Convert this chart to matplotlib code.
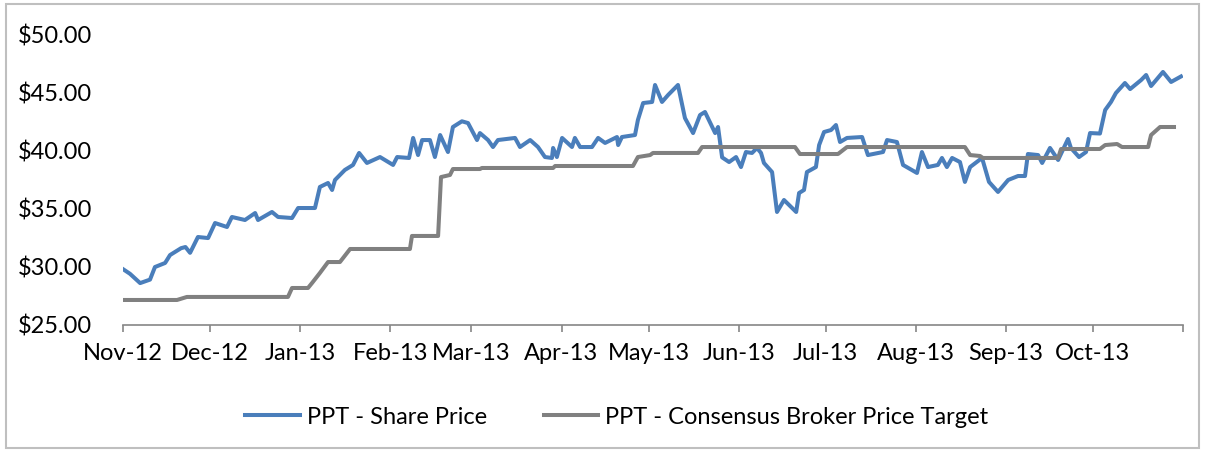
import numpy as np
import pandas as pd
import matplotlib
matplotlib.use('Agg')
import matplotlib.pyplot as plt
from matplotlib.patches import Rectangle

plt.rcParams['font.family'] = ['Lato', 'DejaVu Sans']

# days since 1 Nov 2012
price_days = [0, 2.4, 5.9, 9.3, 11.0, 14.5, 16.2, 20.0, 21.5, 23.1, 25.8, 29.3, 31.7, 35.8, 37.5,
              42.0, 45.5, 46.5, 51.3, 53.4, 58.2, 60.3, 66.1, 67.8, 70.6, 72.0, 73.0, 76.4, 79.2,
              81.3, 84.0, 88.5, 93.0, 94.4, 98.5, 99.9, 101.6, 103.0, 105.7, 107.4, 109.2, 111.9,
              113.6, 116.7, 118.8, 121.9, 122.9, 125.7, 127.4, 129.1, 135.0, 136.7, 140.2, 142.9,
              145.3, 147.7, 148.1, 149.4, 151.2, 154.6, 155.6, 157.4, 161.5, 163.6, 166.0, 170.1,
              170.5, 171.8, 176.3, 177.3, 179.1, 182.2, 183.2, 185.6, 187.7, 191.1, 193.5, 196.3,
              198.7, 200.4, 203.9, 204.9, 206.3, 208.7, 211.1, 212.8, 214.5, 216.6, 218.3, 219.7,
              220.7, 223.5, 225.2, 227.6, 231.8, 232.8, 234.5, 235.5, 238.6, 239.7, 241.4, 243.8,
              245.5, 246.9, 249.3, 254.5, 256.5, 261.7, 263.1, 266.5, 268.6, 273.4, 275.1, 277.2,
              280.6, 282.0, 283.7, 285.5, 288.2, 289.9, 291.7, 295.8, 298.2, 301.3, 304.8, 308.2,
              310.6, 311.6, 315.1, 316.5, 319.2, 322.0, 325.4, 326.4, 329.2, 331.6, 333.0, 336.4,
              338.2, 340.2, 341.9, 345.0, 346.8, 350.6, 352.3, 354.0, 358.1, 360.9, 364.3]
share_price = [29.8, 29.4, 28.6, 28.9, 29.98, 30.33, 31.01, 31.6, 31.7, 31.2, 32.56, 32.47, 33.76, 33.42, 34.28,
               34.02, 34.62, 34.02, 34.71, 34.28, 34.19, 35.05, 35.05, 36.86, 37.20, 36.60, 37.46, 38.32, 38.75,
               39.78, 38.92, 39.43, 38.75, 39.43, 39.35, 41.07, 39.60, 40.89, 40.89, 39.43, 41.32, 39.86,
               42.01, 42.5, 42.35, 40.89, 41.49, 40.89, 40.29, 40.89, 41.07, 40.29, 40.89, 40.29,
               39.43, 39.35, 40.21, 39.43, 41.07, 40.29, 41.07, 40.29, 40.29, 41.07, 40.64, 41.15,
               40.46, 41.15, 41.32, 42.61, 44.07, 44.16, 45.62, 44.16, 44.76, 45.62, 42.78, 41.49,
               43.04, 43.30, 41.49, 42.01, 39.4, 39.00, 39.43, 38.57, 39.86, 39.78, 40.21, 39.78,
               38.92, 38.14, 34.71, 35.74, 34.71, 36.34, 36.60, 38.14, 38.57, 40.46, 41.58, 41.75,
               42.18, 40.72, 41.07, 41.15, 39.60, 39.86, 40.89, 40.72, 38.75, 38.06, 39.86, 38.57,
               38.75, 39.35, 38.57, 39.35, 39.00, 37.29, 38.57, 39.35, 37.29, 36.43, 37.46, 37.8,
               37.8, 39.69, 39.60, 38.92, 40.21, 39.18, 40.98, 40.21, 39.43, 39.86, 41.49, 41.45,
               43.47, 44.16, 44.93, 45.79, 45.27, 46.05, 46.48, 45.53, 46.74, 45.88, 46.35]

target_days = [0, 18.6, 22.0, 56.8, 58.2, 63.7, 65.1, 67.8, 70.6, 74.7, 78.2, 98.8, 99.5, 108.5,
               109.5, 112.6, 113.6, 122.9, 123.6, 148.1, 148.8, 175.6, 177.3, 181.5, 182.5, 198.0,
               199.4, 231.4, 233.1, 246.2, 249.3, 289.9, 291.7, 295.1, 296.1, 322.0, 323.0, 336.4,
               338.2, 342.3, 344.0, 353.0, 354.0, 357.1, 361.9]
broker_target = [27.15, 27.15, 27.41, 27.41, 28.18, 28.18, 28.61, 29.47, 30.41, 30.41, 31.53, 31.53, 32.65, 32.65,
                 37.71, 37.89, 38.40, 38.40, 38.49, 38.49, 38.66, 38.66, 39.43, 39.60, 39.78, 39.78,
                 40.29, 40.29, 39.69, 39.69, 40.29, 40.29, 39.60, 39.52, 39.35, 39.35, 40.12, 40.12,
                 40.46, 40.55, 40.29, 40.29, 41.32, 42.01, 42.01]

start = pd.Timestamp('2012-11-01')
months = pd.date_range('2012-11-01', '2013-11-01', freq='MS')
month_days = [(m - start).days for m in months]
month_labels = [m.strftime('%b-%y') for m in months[:-1]] + ['']

fig = plt.figure(figsize=(12.07, 4.54), dpi=100)
ax = fig.add_axes([123 / 1207, 1 - 325 / 454, (1183 - 123) / 1207, (325 - 34) / 454])

ax.plot(price_days, share_price, color='#4A7EBB', lw=2.9, solid_joinstyle='round',
        label='PPT - Share Price')
ax.plot(target_days, broker_target, color='#808080', lw=2.9, solid_joinstyle='round',
        label='PPT - Consensus Broker Price Target')

ax.set_xlim(0, 365)
ax.set_ylim(25, 50)
ax.set_yticks(np.arange(25, 51, 5))
ax.set_yticklabels(['${:.2f}'.format(v) for v in np.arange(25, 51, 5)])
ax.set_xticks(month_days)
ax.set_xticklabels(month_labels)

for s in ['top', 'right', 'left']:
    ax.spines[s].set_visible(False)
ax.spines['bottom'].set_color('#868686')
ax.spines['bottom'].set_linewidth(1.2)
ax.tick_params(axis='x', direction='out', length=5, width=1.2, color='#868686',
               labelsize=17, pad=8, labelcolor='black')
ax.tick_params(axis='y', length=0, labelsize=17, pad=22, labelcolor='black')

fig.legend(loc='center', bbox_to_anchor=(0.511, 1 - 417 / 454), ncol=2, frameon=False,
           fontsize=17, handlelength=2.3, handletextpad=0.3, columnspacing=2.4)

fig.patches.append(Rectangle((6 / 1207, 6 / 454), 1193 / 1207, 444 / 454, transform=fig.transFigure,
                             fill=False, edgecolor='#BFBFBF', lw=1.5))

fig.savefig('out.png', dpi=100)
